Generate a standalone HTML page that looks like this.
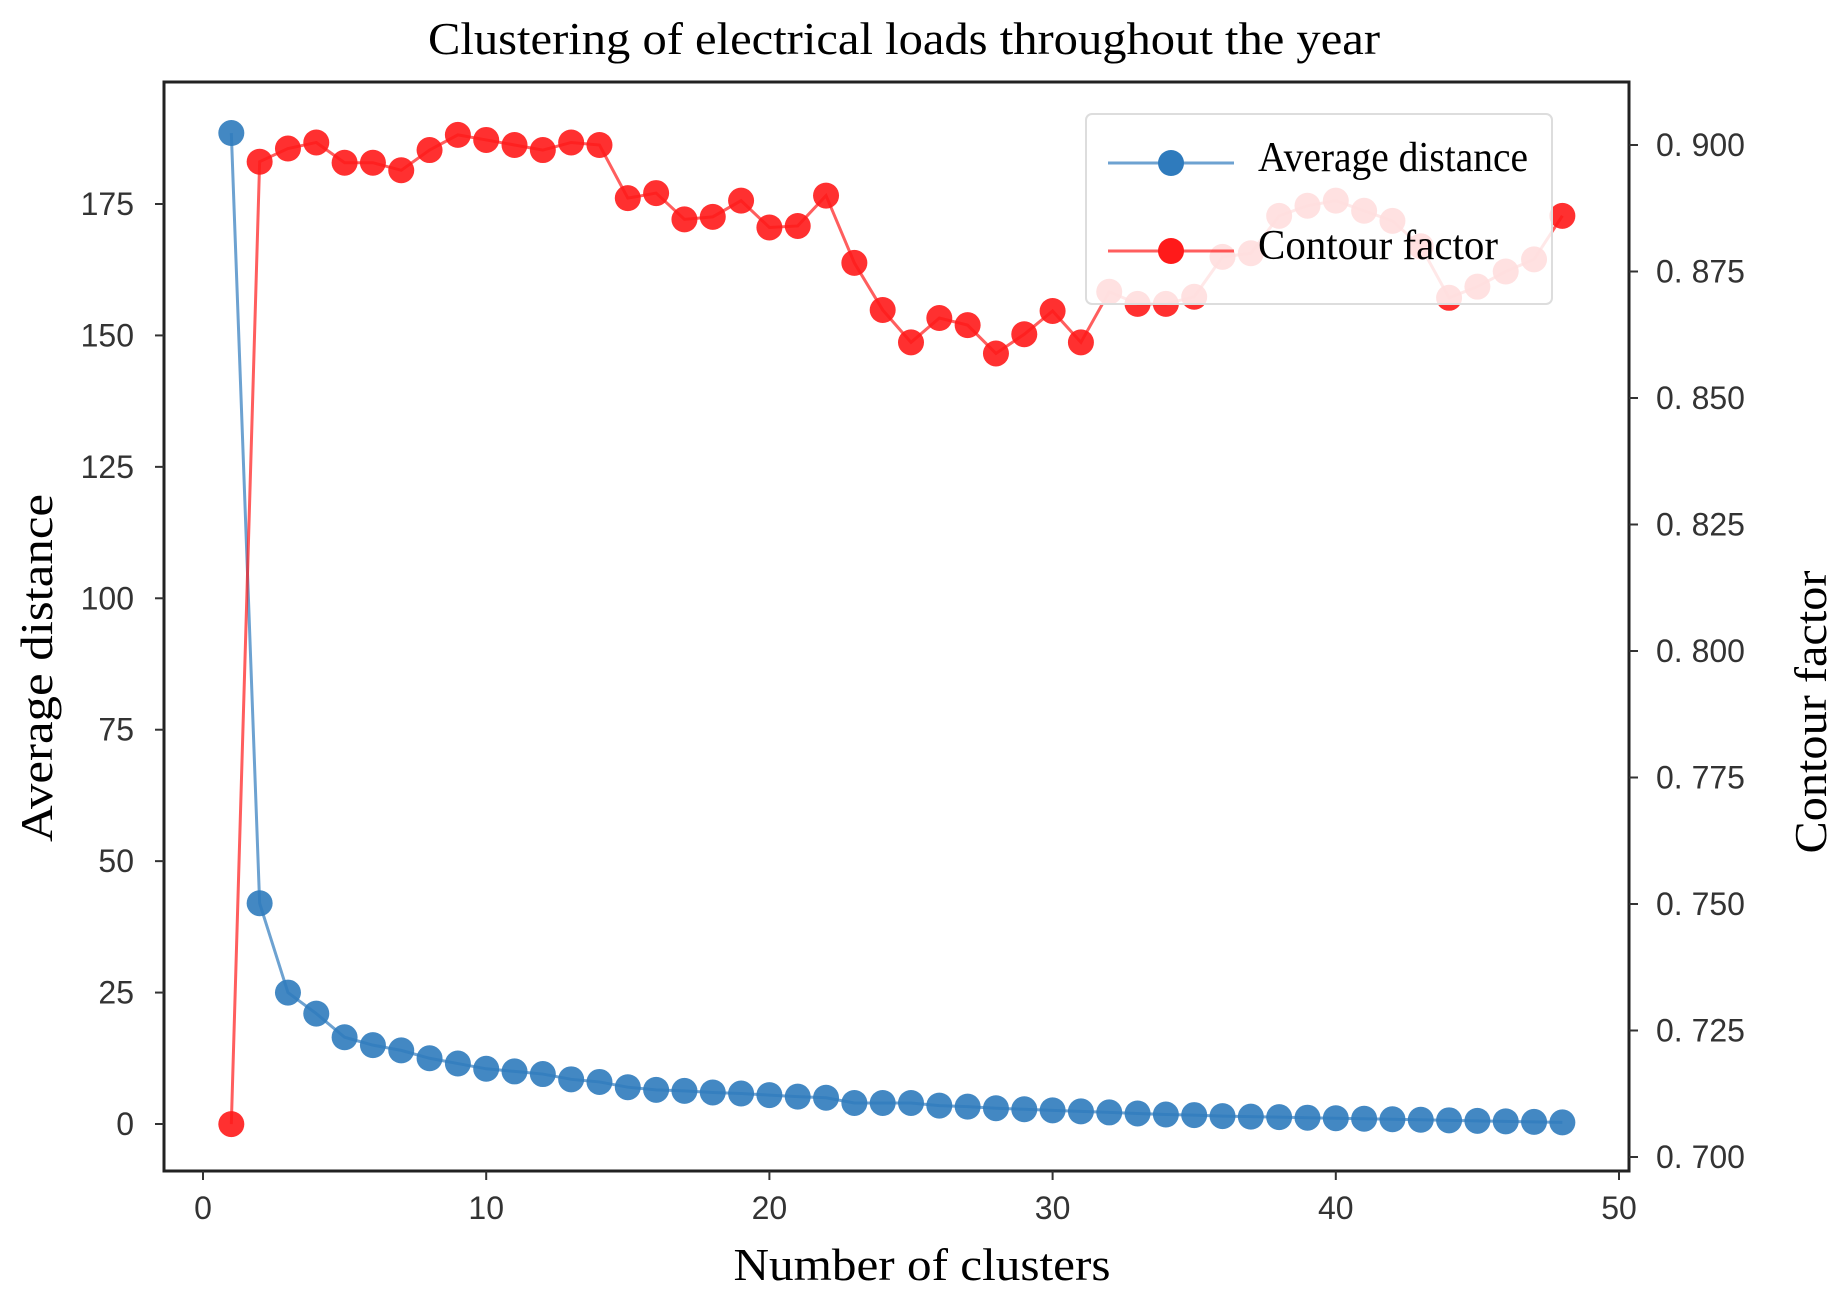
<!DOCTYPE html>
<html><head><meta charset="utf-8"><style>
body{margin:0;background:#fff}
svg{display:block}
</style></head><body>
<svg id="chart" width="1841" height="1307" viewBox="0 0 1841 1307" xmlns="http://www.w3.org/2000/svg">
<text x="904" y="54" font-family="Liberation Serif, serif" font-size="46" text-anchor="middle" fill="#000" textLength="952" lengthAdjust="spacingAndGlyphs">Clustering of electrical loads throughout the year</text>
<g id="plot"></g>
<text x="922" y="1280" font-family="Liberation Serif, serif" font-size="46" text-anchor="middle" fill="#000" textLength="377" lengthAdjust="spacingAndGlyphs">Number of clusters</text>
<text transform="translate(52,668) rotate(-90)" font-family="Liberation Serif, serif" font-size="46" text-anchor="middle" fill="#000" textLength="348" lengthAdjust="spacingAndGlyphs">Average distance</text>
<text transform="translate(1826,712) rotate(-90)" font-family="Liberation Serif, serif" font-size="46" text-anchor="middle" fill="#000" textLength="283" lengthAdjust="spacingAndGlyphs">Contour factor</text>
</svg>
<script>
const clusters = Array.from({length:48},(_,i)=>i+1);
const avgDistance = [188.5,42,25,21,16.5,15,14,12.5,11.5,10.5,10,9.5,8.5,8,7,6.5,6.3,6,5.8,5.5,5.2,5,4,4,4,3.5,3.3,3,2.8,2.6,2.4,2.2,2,1.8,1.7,1.5,1.4,1.3,1.2,1.1,1.0,0.9,0.8,0.7,0.6,0.5,0.4,0.3];
const contour = [0.7065,0.8967,0.8993,0.9005,0.8965,0.8965,0.895,0.899,0.902,0.901,0.900,0.899,0.9005,0.900,0.8895,0.8905,0.8853,0.8858,0.889,0.8837,0.884,0.890,0.8767,0.8674,0.861,0.8658,0.8644,0.8588,0.8626,0.8672,0.861,0.871,0.8686,0.8686,0.870,0.8779,0.8786,0.886,0.888,0.889,0.887,0.885,0.880,0.8698,0.872,0.875,0.8774,0.886];
const xTicks = [0,10,20,30,40,50];
const leftTicks = [0,25,50,75,100,125,150,175];
const rightTicks = [0.700,0.725,0.750,0.775,0.800,0.825,0.850,0.875,0.900];

const NS='http://www.w3.org/2000/svg';
const g=document.getElementById('plot');
const X=v=>203+(v-0)*(1619-203)/50;
const YL=v=>1124-v*(1124-204)/175;
const YR=v=>1157-(v-0.7)*(1157-145)/0.2;
function mk(t,a,p){const e=document.createElementNS(NS,t);for(const k in a)e.setAttribute(k,a[k]);(p||g).appendChild(e);return e;}
const L=164,R=1629,T=82,B=1171;
const frame=mk('rect',{x:L,y:T,width:R-L,height:B-T,fill:'none',stroke:'#222','stroke-width':3});


const tf='Liberation Sans, sans-serif';
xTicks.forEach(v=>{
 const l=mk('line',{x1:X(v),x2:X(v),y1:B,y2:B+9,stroke:'#333','stroke-width':2});
 
 
 const t=mk('text',{x:X(v),y:B+48,'font-family':tf,'font-size':32,'text-anchor':'middle',fill:'#333'});
 t.textContent=v;
 
 
});
leftTicks.forEach(v=>{
 const l=mk('line',{x1:L-9,x2:L,y1:YL(v),y2:YL(v),stroke:'#333','stroke-width':2});
 
 
 const t=mk('text',{x:L-30,y:YL(v)+11,'font-family':tf,'font-size':32,'text-anchor':'end',fill:'#333'});
 t.textContent=v;
 
 
});
rightTicks.forEach(v=>{
 const l=mk('line',{x1:R,x2:R+9,y1:YR(v),y2:YR(v),stroke:'#333','stroke-width':2});
 
 
 const t=mk('text',{x:R+27,y:YR(v)+11,'font-family':tf,'font-size':32,fill:'#333'});
 t.textContent='0. '+v.toFixed(3).slice(2);
 
 
});
function series(vals,yf,col,name){
 const pl=mk('polyline',{points:vals.map((v,i)=>X(clusters[i])+','+yf(v)).join(' '),fill:'none',stroke:col,'stroke-width':3,'stroke-opacity':0.7});
 
 
 vals.forEach((v,i)=>{
  const c=mk('circle',{cx:X(clusters[i]),cy:yf(v),r:13,fill:col,'fill-opacity':0.9});
  
  
 });
}
series(avgDistance,YL,'#2f7bbd','average-distance');
series(contour,YR,'#ff1a1a','contour-factor');
const lg=mk('g',{});


mk('rect',{x:1086,y:114,width:466,height:190,rx:6,fill:'#fff','fill-opacity':0.86,stroke:'#ddd','stroke-width':2},lg);
[['Average distance','#2f7bbd',163,270],['Contour factor','#ff1a1a',251,240]].forEach(([txt,col,y,w])=>{
 const e=mk('g',{},lg);
 
 
 mk('line',{x1:1108,x2:1234,y1:y,y2:y,stroke:col,'stroke-width':3,'stroke-opacity':0.7},e);
 mk('circle',{cx:1171,cy:y,r:13,fill:col},e);
 const t=mk('text',{x:1258,y:y+8,'font-family':'Liberation Serif, serif','font-size':42,fill:'#000',textLength:w,lengthAdjust:'spacingAndGlyphs'},e);
 t.textContent=txt;
});
</script>
</body></html>
